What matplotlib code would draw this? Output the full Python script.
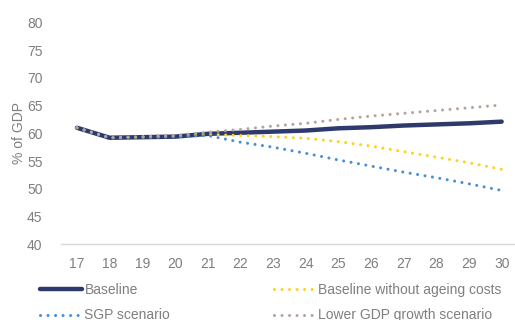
import matplotlib
matplotlib.use("Agg")
import matplotlib.pyplot as plt
from matplotlib.lines import Line2D

plt.rcParams['font.family'] = ['Liberation Sans', 'DejaVu Sans']

years = [17, 18, 19, 20, 21, 22, 23, 24, 25, 26, 27, 28, 29, 30]
year_labels = [str(y) for y in years]

baseline = [61.0, 59.2, 59.3, 59.4, 59.9, 60.1, 60.3, 60.5, 60.9, 61.1, 61.4, 61.6, 61.8, 62.1]
no_ageing = [61.0, 59.2, 59.3, 59.4, 59.8, 59.6, 59.4, 59.1, 58.5, 57.7, 56.7, 55.7, 54.7, 53.5]
sgp = [61.0, 59.2, 59.3, 59.4, 59.6, 58.4, 57.5, 56.4, 55.2, 54.1, 53.0, 52.0, 50.9, 49.7]
lower_gdp = [61.0, 59.2, 59.4, 59.6, 60.2, 60.7, 61.3, 61.8, 62.5, 63.1, 63.6, 64.1, 64.6, 65.1]

y_ticks = [40, 45, 50, 55, 60, 65, 70, 75, 80]

navy = '#2E3A6E'
yellow = '#FFD21F'
blue = '#4A8FD6'
taupe = '#B3A59C'
grey_text = '#7F7F7F'

fig = plt.figure(figsize=(5.15, 3.2), dpi=100)
ax = fig.add_axes([60.6 / 515, 1 - 244.3 / 320, (518 - 60.6) / 515, (244.3 - 22.3) / 320])

dot = (0, (0.01, 2.45))
ax.plot(years, baseline, color=navy, lw=3.2, solid_capstyle='round', label='Baseline', zorder=2)
ax.plot(years, no_ageing, color=yellow, lw=2.2, ls=dot, dash_capstyle='round',
        label='Baseline without ageing costs', zorder=3)
ax.plot(years, sgp, color=blue, lw=2.2, ls=dot, dash_capstyle='round',
        label='SGP scenario', zorder=3)
ax.plot(years, lower_gdp, color=taupe, lw=2.2, ls=dot, dash_capstyle='round',
        label='Lower GDP growth scenario', zorder=4)

ax.set_xlim(16.5, 30.5)
ax.set_ylim(40, 80)
ax.set_xticks(years)
ax.set_xticklabels(year_labels)
ax.set_yticks(y_ticks)
ax.tick_params(axis='both', length=0, labelsize=10, colors=grey_text)
ax.tick_params(axis='y', pad=13)
ax.tick_params(axis='x', pad=9)
for s in ['top', 'right', 'left']:
    ax.spines[s].set_visible(False)
ax.spines['bottom'].set_color('#D9D9D9')
ax.spines['bottom'].set_linewidth(1.0)
ax.set_ylabel('% of GDP', color=grey_text, fontsize=10, labelpad=1)

handles = [
    Line2D([], [], color=navy, lw=3.2, solid_capstyle='round'),
    Line2D([], [], color=blue, lw=2.2, ls=dot, dash_capstyle='round'),
    Line2D([], [], color=yellow, lw=2.2, ls=dot, dash_capstyle='round'),
    Line2D([], [], color=taupe, lw=2.2, ls=dot, dash_capstyle='round'),
]
labels = ['Baseline', 'SGP scenario', 'Baseline without ageing costs', 'Lower GDP growth scenario']
leg = fig.legend(handles, labels, ncol=2, loc='upper left', bbox_to_anchor=(40 / 515, 1 - 283 / 320),
                 frameon=False, fontsize=10, handlelength=3.0, handletextpad=0.2,
                 columnspacing=7.45, labelspacing=0.82, borderaxespad=0, borderpad=0)
for t in leg.get_texts():
    t.set_color(grey_text)

fig.savefig('out.png', dpi=100)
